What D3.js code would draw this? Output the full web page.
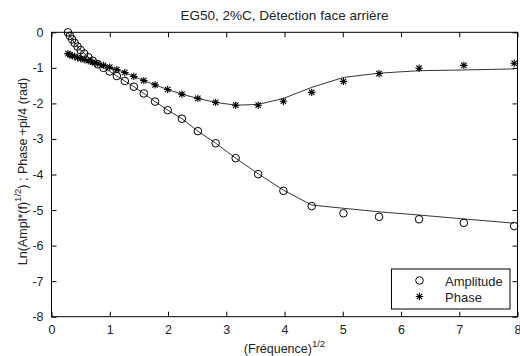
<!DOCTYPE html>
<html><head><meta charset="utf-8">
<script src="https://cdn.jsdelivr.net/npm/d3@7"></script>
<style>
body{margin:0;background:#fff;}
svg text{font-family:"Liberation Sans",Arial,sans-serif;fill:#222;}
</style></head>
<body><svg id="c" width="520" height="356"></svg>
<script>
const sqrtFreq = [0.282,0.316,0.355,0.398,0.447,0.501,0.562,0.631,0.708,0.794,0.891,1.0,1.122,1.259,1.413,1.585,1.778,1.995,2.239,2.512,2.818,3.162,3.548,3.981,4.467,5.012,5.623,6.310,7.079,7.943];
const amplitude = [0.0,-0.10,-0.20,-0.30,-0.40,-0.50,-0.60,-0.70,-0.80,-0.90,-1.00,-1.10,-1.23,-1.37,-1.53,-1.72,-1.95,-2.19,-2.43,-2.78,-3.12,-3.54,-3.99,-4.46,-4.89,-5.09,-5.19,-5.26,-5.36,-5.45];
const phase = [-0.60,-0.63,-0.66,-0.68,-0.71,-0.74,-0.77,-0.80,-0.84,-0.88,-0.93,-0.98,-1.05,-1.13,-1.24,-1.36,-1.48,-1.61,-1.74,-1.86,-1.97,-2.05,-2.05,-1.94,-1.69,-1.38,-1.16,-1.01,-0.93,-0.87];
const amplitudeFit = [0.0,-0.10,-0.20,-0.30,-0.40,-0.50,-0.60,-0.70,-0.80,-0.90,-1.00,-1.10,-1.23,-1.37,-1.53,-1.72,-1.95,-2.19,-2.43,-2.78,-3.12,-3.54,-3.98,-4.44,-4.86,-4.95,-5.05,-5.14,-5.25,-5.37];
const phaseFit = [-0.60,-0.63,-0.66,-0.68,-0.71,-0.74,-0.77,-0.80,-0.84,-0.88,-0.93,-0.98,-1.05,-1.13,-1.24,-1.36,-1.48,-1.61,-1.74,-1.86,-1.97,-2.05,-2.03,-1.86,-1.55,-1.27,-1.15,-1.08,-1.06,-1.03];
const xTicks = [0,1,2,3,4,5,6,7,8];
const yTicks = [0,-1,-2,-3,-4,-5,-6,-7,-8];
const titleText = "EG50, 2%C, Détection face arrière";
const seriesNames = ["Amplitude","Phase"];

const svg = d3.select("#c");
const L=51.5, R=517.5, T=32.3, B=316.7;
const x = d3.scaleLinear().domain([0,8]).range([L,R]);
const y = d3.scaleLinear().domain([-8,0]).range([B,T]);

svg.append("rect").attr("x",L).attr("y",T).attr("width",R-L).attr("height",B-T)
  .attr("fill","none").attr("stroke","#000").attr("stroke-width",1);

const tl=5;
const fmt = d=>d<0?"-"+Math.abs(d):String(d);
const gb = svg.append("g").attr("transform",`translate(0,${B})`)
  .call(d3.axisBottom(x).tickValues(xTicks).tickSize(-tl).tickPadding(8).tickFormat(fmt));
const gt = svg.append("g").attr("transform",`translate(0,${T})`)
  .call(d3.axisTop(x).tickValues(xTicks).tickSize(-tl).tickFormat(""));
const gl = svg.append("g").attr("transform",`translate(${L},0)`)
  .call(d3.axisLeft(y).tickValues(yTicks).tickSize(-tl).tickPadding(8).tickFormat(fmt));
const gr = svg.append("g").attr("transform",`translate(${R},0)`)
  .call(d3.axisRight(y).tickValues(yTicks).tickSize(-tl).tickFormat(""));
[gb,gt,gl,gr].forEach(g=>{g.select(".domain").remove();g.selectAll("line").attr("stroke","#000");
  g.selectAll("text").style("font-size","12.5px").attr("fill","#222").style("font-family","Liberation Sans, Arial, sans-serif");});

const pts = (ys)=>sqrtFreq.map((v,i)=>[v,ys[i]]);
const line = d3.line().x(d=>x(d[0])).y(d=>y(d[1]));
svg.append("path").attr("d",line(pts(amplitudeFit))).attr("fill","none").attr("stroke","#000").attr("stroke-width",0.8);
svg.append("path").attr("d",line(pts(phaseFit))).attr("fill","none").attr("stroke","#000").attr("stroke-width",0.8);

function star(g,cx,cy){
  const s=3.7, d=2.7;
  g.append("path").attr("d",`M${cx-s},${cy}L${cx+s},${cy}M${cx},${cy-s}L${cx},${cy+s}M${cx-d},${cy-d}L${cx+d},${cy+d}M${cx-d},${cy+d}L${cx+d},${cy-d}`)
   .attr("stroke","#000").attr("stroke-width",1.1).attr("fill","none");
}
const gm = svg.append("g");
pts(amplitude).forEach(p=>gm.append("circle").attr("cx",x(p[0])).attr("cy",y(p[1])).attr("r",3.8)
  .attr("fill","none").attr("stroke","#000").attr("stroke-width",1));
const gs = svg.append("g");
pts(phase).forEach(p=>star(gs,x(p[0]),y(p[1])));

svg.append("text").attr("x",(L+R)/2).attr("y",20).attr("text-anchor","middle")
  .style("font-size","13.5px").text(titleText);

const xl = svg.append("text").attr("x",(L+R)/2).attr("y",353).attr("text-anchor","middle").style("font-size","12.5px");
xl.append("tspan").text("(Fréquence)");
xl.append("tspan").attr("dy",-6).style("font-size","9.5px").text("1/2");

const yl = svg.append("text").attr("transform",`translate(27,${(T+B)/2 - 3}) rotate(-90)`).attr("text-anchor","middle").style("font-size","12.5px");
yl.append("tspan").text("Ln(Ampl*(f)");
yl.append("tspan").attr("dy",-6).style("font-size","9.5px").text("1/2");
yl.append("tspan").attr("dy",6).text(") ; Phase +pi/4 (rad)");

const lg = svg.append("g");
lg.append("rect").attr("x",391.5).attr("y",269).attr("width",118.5).attr("height",40)
  .attr("fill","#fff").attr("stroke","#000").attr("stroke-width",1);
lg.append("circle").attr("cx",419.5).attr("cy",280.5).attr("r",3.8).attr("fill","none").attr("stroke","#000");
star(lg,419.5,296.5);
lg.append("text").attr("x",445).attr("y",285.5).style("font-size","13px").text(seriesNames[0]);
lg.append("text").attr("x",445).attr("y",301.5).style("font-size","13px").text(seriesNames[1]);
</script></body></html>
